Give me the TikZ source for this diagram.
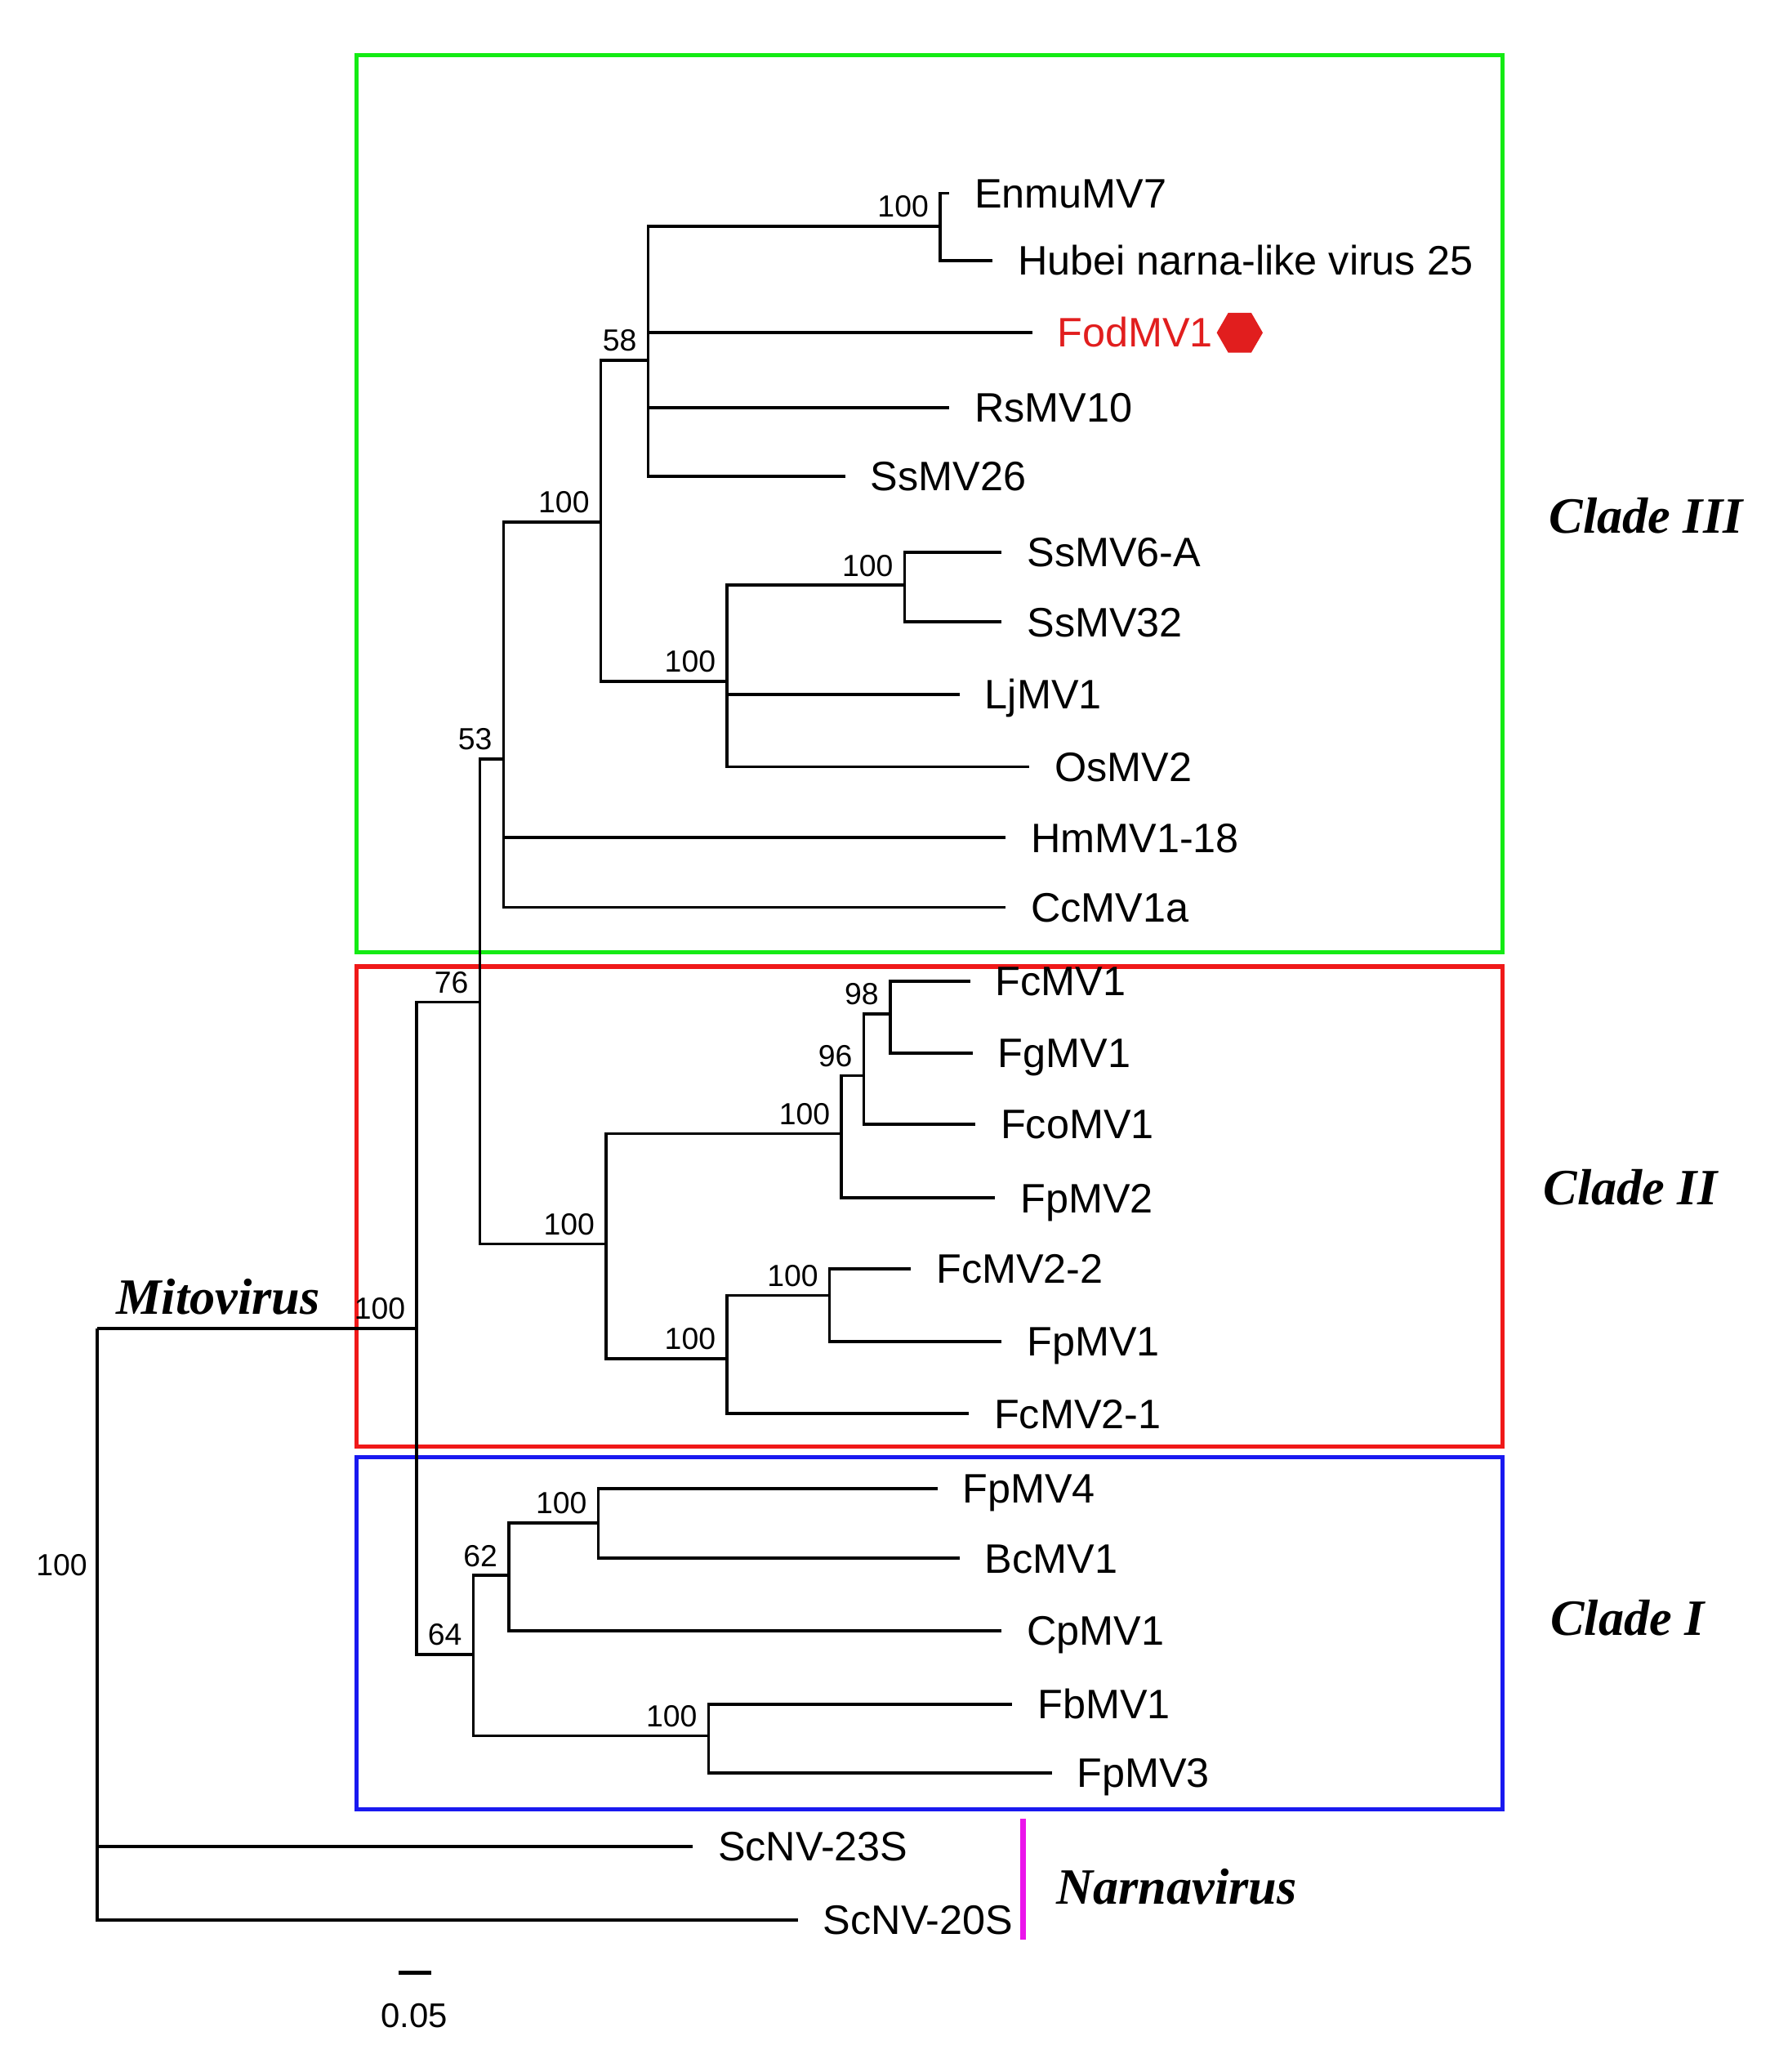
\documentclass[tikz,border=0pt]{standalone}
\usepackage{fontspec}
\setmainfont{Liberation Sans}
\newfontfamily\cladefont{Liberation Serif}
\usetikzlibrary{shapes.geometric}
\definecolor{cgreen}{RGB}{20,235,20}
\definecolor{cred}{RGB}{240,25,25}
\definecolor{cblue}{RGB}{25,25,240}
\definecolor{cmag}{RGB}{235,20,235}
\definecolor{fodred}{RGB}{225,30,30}
\begin{document}
\begin{tikzpicture}[x=0.01cm,y=-0.01cm,
  br/.style={line width=0.65pt,black},
  boxline/.style={line width=0.9pt},
  leaf/.style={anchor=base west,inner sep=0pt,font=\fontsize{8.9}{10}\selectfont,xshift=1.85mm,yshift=-1.1mm},
  bs/.style={anchor=south east,inner sep=0pt,font=\fontsize{6.6}{8}\selectfont,xshift=-0.8mm,yshift=0.6mm},
  cladelab/.style={inner sep=0pt,font=\cladefont\bfseries\itshape\fontsize{11}{13}\selectfont}]
\useasboundingbox (0,0) rectangle (1360,1575.6);
% clade boxes
\draw[boxline,cgreen] (271,42) rectangle (1143,724);
\draw[boxline,cred] (271,735) rectangle (1143,1100);
\draw[boxline,cblue] (271,1108) rectangle (1143,1376);
% internal nodes
\coordinate (r) at (74,1010);
\coordinate (m) at (317,1010);
\coordinate (n76) at (365,762);
\coordinate (n64) at (360,1258);
\coordinate (n53) at (383,577);
\coordinate (nII) at (461,946);
\coordinate (n100a) at (457,397);
\coordinate (n58) at (493,274);
\coordinate (n100b) at (553,518);
\coordinate (nEH) at (715,172);
\coordinate (n100c) at (688,445);
\coordinate (n100d) at (640,862);
\coordinate (n96) at (657,818);
\coordinate (n98) at (677,771);
\coordinate (n100e) at (553,1033);
\coordinate (n100f) at (631,985);
\coordinate (n62) at (387,1198);
\coordinate (n100g) at (455,1158);
\coordinate (n100h) at (539,1320);
% tips
\coordinate (t23) at (527,1404);
\coordinate (t20) at (607,1460);
\coordinate (tEn) at (722,147);
\coordinate (tHu) at (755,198);
\coordinate (tFod) at (785,253);
\coordinate (tRs) at (722,310);
\coordinate (tSs26) at (643,362);
\coordinate (tSs6) at (762,420);
\coordinate (tSs32) at (762,473);
\coordinate (tLj) at (730,528);
\coordinate (tOs) at (783,583);
\coordinate (tHm) at (765,637);
\coordinate (tCc) at (765,690);
\coordinate (tFc1) at (738,746);
\coordinate (tFg) at (740,801);
\coordinate (tFco) at (742,855);
\coordinate (tFp2) at (757,911);
\coordinate (tFc22) at (693,965);
\coordinate (tFp1) at (762,1020);
\coordinate (tFc21) at (737,1075);
\coordinate (tFp4) at (713,1132);
\coordinate (tBc) at (730,1185);
\coordinate (tCp) at (762,1240);
\coordinate (tFb) at (770,1296);
\coordinate (tFp3) at (800,1348);
% branches
\draw[br] (r) |- (m);
\draw[br] (r) |- (t23);
\draw[br] (r) |- (t20);
\draw[br] (m) |- (n76);
\draw[br] (m) |- (n64);
\draw[br] (n76) |- (n53);
\draw[br] (n76) |- (nII);
\draw[br] (n53) |- (n100a);
\draw[br] (n53) |- (tHm);
\draw[br] (n53) |- (tCc);
\draw[br] (n100a) |- (n58);
\draw[br] (n100a) |- (n100b);
\draw[br] (n58) |- (nEH);
\draw[br] (n58) |- (tFod);
\draw[br] (n58) |- (tRs);
\draw[br] (n58) |- (tSs26);
\draw[br] (nEH) |- (tEn);
\draw[br] (nEH) |- (tHu);
\draw[br] (n100b) |- (n100c);
\draw[br] (n100b) |- (tLj);
\draw[br] (n100b) |- (tOs);
\draw[br] (n100c) |- (tSs6);
\draw[br] (n100c) |- (tSs32);
\draw[br] (nII) |- (n100d);
\draw[br] (nII) |- (n100e);
\draw[br] (n100d) |- (n96);
\draw[br] (n100d) |- (tFp2);
\draw[br] (n96) |- (n98);
\draw[br] (n96) |- (tFco);
\draw[br] (n98) |- (tFc1);
\draw[br] (n98) |- (tFg);
\draw[br] (n100e) |- (n100f);
\draw[br] (n100e) |- (tFc21);
\draw[br] (n100f) |- (tFc22);
\draw[br] (n100f) |- (tFp1);
\draw[br] (n64) |- (n62);
\draw[br] (n64) |- (n100h);
\draw[br] (n62) |- (n100g);
\draw[br] (n62) |- (tCp);
\draw[br] (n100g) |- (tFp4);
\draw[br] (n100g) |- (tBc);
\draw[br] (n100h) |- (tFb);
\draw[br] (n100h) |- (tFp3);
% leaf labels
\node[leaf] (lEn) at (tEn) {EnmuMV7};
\node[leaf] (lHu) at (tHu) {Hubei narna-like virus 25};
\node[leaf,text=fodred] (lFod) at (tFod) {FodMV1};
\node[leaf] (lRs) at (tRs) {RsMV10};
\node[leaf] (lSs26) at (tSs26) {SsMV26};
\node[leaf] (lSs6) at (tSs6) {SsMV6-A};
\node[leaf] (lSs32) at (tSs32) {SsMV32};
\node[leaf] (lLj) at (tLj) {LjMV1};
\node[leaf] (lOs) at (tOs) {OsMV2};
\node[leaf] (lHm) at (tHm) {HmMV1-18};
\node[leaf] (lCc) at (tCc) {CcMV1a};
\node[leaf] (lFc1) at (tFc1) {FcMV1};
\node[leaf] (lFg) at (tFg) {FgMV1};
\node[leaf] (lFco) at (tFco) {FcoMV1};
\node[leaf] (lFp2) at (tFp2) {FpMV2};
\node[leaf] (lFc22) at (tFc22) {FcMV2-2};
\node[leaf] (lFp1) at (tFp1) {FpMV1};
\node[leaf] (lFc21) at (tFc21) {FcMV2-1};
\node[leaf] (lFp4) at (tFp4) {FpMV4};
\node[leaf] (lBc) at (tBc) {BcMV1};
\node[leaf] (lCp) at (tCp) {CpMV1};
\node[leaf] (lFb) at (tFb) {FbMV1};
\node[leaf] (lFp3) at (tFp3) {FpMV3};
\node[leaf] (l23) at (t23) {ScNV-23S};
\node[leaf] (l20) at (t20) {ScNV-20S};
% marker
\node[regular polygon,regular polygon sides=6,fill=fodred,draw=none,minimum size=0.35cm,inner sep=0pt] (hex) at (943,253) {};
% bootstrap values
\node[bs] (bEH) at (nEH) {100};
\node[bs] (b58) at (n58) {58};
\node[bs] (b100a) at (n100a) {100};
\node[bs] (b53) at (n53) {53};
\node[bs] (b100b) at (n100b) {100};
\node[bs] (b100c) at (n100c) {100};
\node[bs] (b76) at (n76) {76};
\node[bs] (bm) at (m) {100};
\node[bs] (b98) at (n98) {98};
\node[bs] (b96) at (n96) {96};
\node[bs] (b100d) at (n100d) {100};
\node[bs] (bII) at (nII) {100};
\node[bs] (b100e) at (n100e) {100};
\node[bs] (b100f) at (n100f) {100};
\node[bs] (b64) at (n64) {64};
\node[bs] (b62) at (n62) {62};
\node[bs] (b100g) at (n100g) {100};
\node[bs] (b100h) at (n100h) {100};
\node[anchor=east,inner sep=0pt,font=\fontsize{6.6}{8}\selectfont] (broot) at (67,1190) {100};
% group labels
\node[cladelab] (c3) at (1252,392) {Clade III};
\node[cladelab] (c2) at (1240,903) {Clade II};
\node[cladelab] (c1) at (1238,1230) {Clade I};
\node[cladelab] (mito) at (166,986) {Mitovirus};
\node[cladelab] (narna) at (895,1435) {Narnavirus};
\coordinate (mgA) at (778,1383);
\coordinate (mgB) at (778,1475);
\draw[cmag,line width=1.2pt] (mgA) -- (mgB);
% scale bar
\coordinate (sbA) at (303,1500);
\coordinate (sbB) at (328,1500);
\draw[line width=1pt] (sbA) -- (sbB);
\node[inner sep=0pt,font=\fontsize{7.4}{9}\selectfont] (sbl) at (315,1533) {0.05};
\end{tikzpicture}
\end{document}
